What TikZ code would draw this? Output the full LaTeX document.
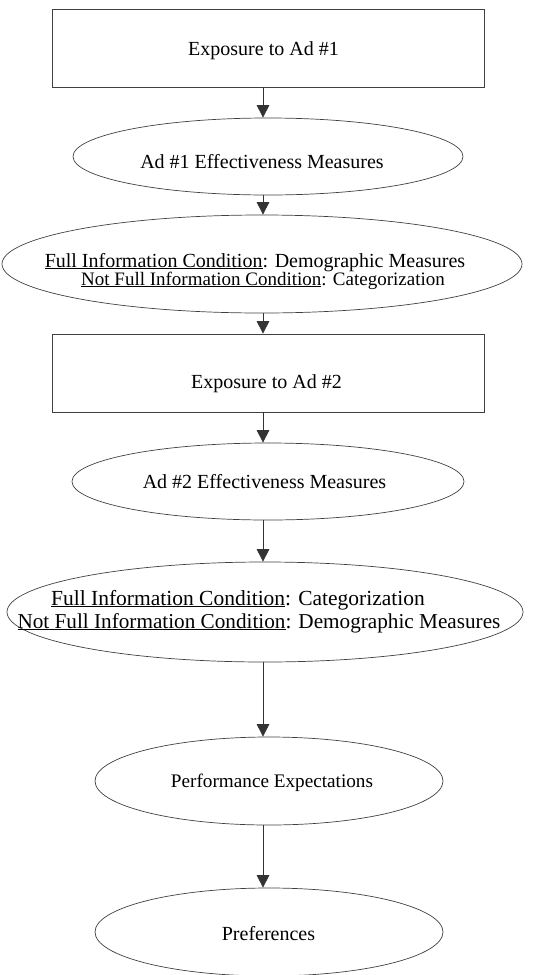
\documentclass[tikz,border=0pt]{standalone}
\usepackage{fontspec}
\setmainfont{Liberation Serif}
\usetikzlibrary{shapes.geometric,arrows.meta}
\begin{document}
\begin{tikzpicture}[x=1pt,y=-1pt,
  outl/.style={draw=black!75,line width=0.7pt,inner sep=0pt},
  boxshape/.style={outl,rectangle,minimum width=432pt,minimum height=78pt},
  ellshape/.style={outl,ellipse},
  txt/.style={anchor=base,inner sep=0pt,font=\fontsize{20}{24}\selectfont},
  arr/.style={draw=black!80,line width=0.7pt,-{Triangle[length=12.5pt,width=12.5pt]}}]
\useasboundingbox (0,0) rectangle (538,975);
\coordinate (ax) at (263,0);
% shapes
\node[boxshape] (b1) at (268,48) {};
\node[ellshape,minimum width=390pt,minimum height=77pt] (e1) at (268,156.5) {};
\node[ellshape,minimum width=520pt,minimum height=98pt] (e2) at (262,264) {};
\node[boxshape] (b2) at (268,373) {};
\node[ellshape,minimum width=392pt,minimum height=77pt] (e3) at (268,481.5) {};
\node[ellshape,minimum width=516pt,minimum height=100pt] (e4) at (265,612) {};
\node[ellshape,minimum width=348pt,minimum height=88pt] (e5) at (269,781) {};
\node[ellshape,minimum width=348pt,minimum height=88pt] (e6) at (269,932) {};
% texts
\node[txt] (t1) at (263.5,55) {Exposure to Ad \#1};
\node[txt] (t2) at (262,168) {Ad \#1 Effectiveness Measures};
\node[txt] (t3a) at (255,267) {\underline{Full Information Condition}: Demographic Measures};
\node[txt,font=\fontsize{19}{24}\selectfont] (t3b) at (263,285) {\underline{Not Full Information Condition}: Categorization};
\node[txt] (t4) at (266.5,388) {Exposure to Ad \#2};
\node[txt] (t5) at (264.5,488) {Ad \#2 Effectiveness Measures};
\node[txt,font=\fontsize{21.5}{24}\selectfont] (t6a) at (238,605) {\underline{Full Information Condition}: Categorization};
\node[txt,font=\fontsize{21.2}{24}\selectfont] (t6b) at (259,628) {\underline{Not Full Information Condition}: Demographic Measures};
\node[txt,font=\fontsize{19.2}{24}\selectfont] (t7) at (272,787) {Performance Expectations};
\node[txt] (t8) at (268.5,940) {Preferences};
% connectors
\draw[arr] (b1.south -| ax) -- (e1.north -| ax);
\draw[arr] (e1.south -| ax) -- (e2.north -| ax);
\draw[arr] (e2.south -| ax) -- (b2.north -| ax);
\draw[arr] (b2.south -| ax) -- (e3.north -| ax);
\draw[arr] (e3.south -| ax) -- (e4.north -| ax);
\draw[arr] (e4.south -| ax) -- (e5.north -| ax);
\draw[arr] (e5.south -| ax) -- (e6.north -| ax);
\end{tikzpicture}
\end{document}
